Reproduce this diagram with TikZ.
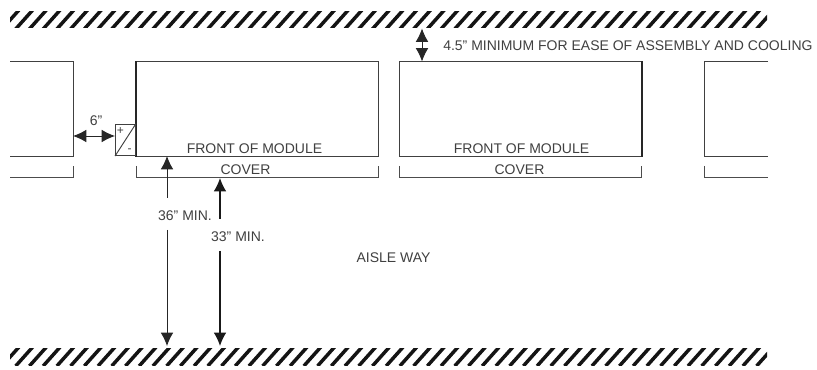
\documentclass[tikz,border=0pt]{standalone}
\usepackage{fontspec}
\setmainfont{Liberation Sans}
\usetikzlibrary{arrows.meta}
\tikzset{
 wall/.style={line width=2.6pt,line cap=butt,black!92},
 modbox/.style={draw=black!75,line width=0.7pt},
 thick edge/.style={draw=black!85,line width=1.5pt},
 bracket/.style={draw=black!70,line width=0.75pt},
 lbl/.style={font=\fontsize{10.5pt}{11pt}\selectfont,text=black!75,inner sep=0pt,anchor=center},
 dim/.style={draw=black!85,line width=0.7pt,-{Latex[length=10pt,width=9.5pt]}},
 dimb/.style={draw=black!85,line width=0.7pt,{Latex[length=10pt,width=9.5pt]}-{Latex[length=10pt,width=9.5pt]}},
 dimthick/.style={draw=black!90,line width=1.05pt,-{Latex[length=10pt,width=9.5pt]}},
}
\begin{document}
\begin{tikzpicture}[x=0.75pt,y=-0.75pt]
\useasboundingbox[fill=white] (0,0) rectangle (817,370);
% hatched walls
\begin{scope}
\clip (10,11.5) rectangle (767,28);
\foreach \i in {0,...,56} \draw[wall] ({2+13.72*\i},29) -- ({19+13.72*\i},10);
\end{scope}
\begin{scope}
\clip (10,348) rectangle (767,365);
\foreach \i in {0,...,56} \draw[wall] ({2+13.72*\i},366) -- ({19+13.72*\i},347);
\end{scope}
% modules
\coordinate (L1) at (10,61.5); \coordinate (L2) at (73,61.5); \coordinate (L3) at (73,156); \coordinate (L4) at (10,156);
\draw[modbox] (L1) -- (L2) -- (L3) -- (L4);
\node[modbox,minimum width=181.5pt,minimum height=70.9pt,inner sep=0pt,anchor=north west] (m1) at (136,61.5) {};
\node[modbox,minimum width=181.5pt,minimum height=70.9pt,inner sep=0pt,anchor=north west] (m2) at (399,61.5) {};
\draw[thick edge] (m1.north west) -- (m1.south west);
\draw[thick edge,line width=1.1pt] (m2.north east) -- (m2.south east);
\coordinate (R1) at (768,61.5); \coordinate (R2) at (704,61.5); \coordinate (R3) at (704,156); \coordinate (R4) at (768,156);
\draw[modbox] (R1) -- (R2) -- (R3) -- (R4);
% polarity box
\node[modbox,minimum width=15pt,minimum height=23.6pt,inner sep=0pt,anchor=south east] (pb) at (136,156) {};
\draw[modbox] (pb.south west) -- (pb.north east);
\node[lbl,font=\fontsize{9pt}{9pt}\selectfont] (plus) at (120.5,131) {+};
\node[lbl,font=\fontsize{9pt}{9pt}\selectfont] (minus) at (129.5,151) {-};
% cover brackets
\draw[bracket] (10,177.5) -- (73,177.5) -- (73,166);
\draw[bracket] (136,166) -- (136,177.5) -- (378,177.5) -- (378,166);
\draw[bracket] (399,166) -- (399,177.5) -- (641,177.5) -- (641,166);
\draw[bracket] (704,166) -- (704,177.5) -- (768,177.5);
% texts
\node[lbl] (f1) at (254.5,148.5) {FRONT OF MODULE};
\node[lbl] (f2) at (521.5,148.5) {FRONT OF MODULE};
\node[lbl] (c1) at (245.5,170) {COVER};
\node[lbl] (c2) at (519.5,170) {COVER};
\node[lbl] (six) at (96,120.5) {6"};
\node[lbl] (n36) at (185,215.5) {36" MIN.};
\node[lbl] (n33) at (238,236.5) {33" MIN.};
\node[lbl] (aisle) at (393.5,257.5) {AISLE WAY};
\node[lbl,anchor=west] (n45) at (443,45.5) {4.5" MINIMUM FOR EASE OF ASSEMBLY AND COOLING};
% dimension arrows
\coordinate (a36t) at (167,156); \coordinate (a36m) at (167,198); \coordinate (a36n) at (167,230); \coordinate (a36b) at (167,346);
\coordinate (a33t) at (220,178); \coordinate (a33m) at (220,219); \coordinate (a33n) at (220,251); \coordinate (a33b) at (220,346);
\draw[dim] (a36m) -- (a36t);
\draw[dim] (a36n) -- (a36b);
\draw[dimthick] (a33m) -- (a33t);
\draw[dimthick] (a33n) -- (a33b);
\coordinate (a6l) at (73,136); \coordinate (a6r) at (115,136);
\draw[dimb] (a6l) -- (a6r);
\coordinate (a45t) at (422,28.5); \coordinate (a45b) at (422,61.5);
\draw[dimb] (a45t) -- (a45b);
\end{tikzpicture}
\end{document}
